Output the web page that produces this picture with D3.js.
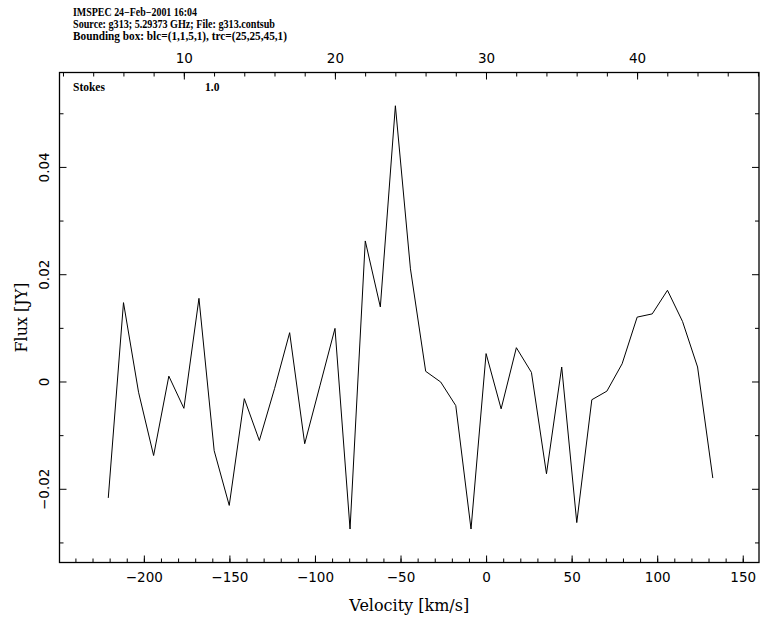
<!DOCTYPE html>
<html><head><meta charset="utf-8">
<script src="https://cdn.jsdelivr.net/npm/d3@7"></script>
<style>
body{margin:0;background:#fff;}
svg{display:block;}
.hdr{font-family:"Liberation Serif","DejaVu Serif",serif;font-weight:bold;font-size:11.5px;fill:#000;}
.tick text{font-family:"DejaVu Sans",sans-serif;font-size:13.5px;fill:#000;}
.title{font-family:"DejaVu Serif","Liberation Serif",serif;font-size:16px;fill:#000;}
</style></head>
<body>
<script>
// Channel numbers (top axis) and velocities (bottom axis)
const channels = [5,6,7,8,9,10,11,12,13,14,15,16,17,18,19,20,21,22,23,24,25,26,27,28,29,30,31,32,33,34,35,36,37,38,39,40,41,42,43,44,45];
const velocities = [-220.8,-211.9,-203.1,-194.3,-185.4,-176.6,-167.8,-158.9,-150.1,-141.3,-132.5,-123.6,-114.8,-106.0,-97.1,-88.3,-79.5,-70.6,-61.8,-53.0,-44.2,-35.3,-26.5,-17.7,-8.8,0.0,8.8,17.7,26.5,35.3,44.2,53.0,61.8,70.6,79.5,88.3,97.1,106.0,114.8,123.6,132.5];
const flux = [-0.0217,0.0147,-0.0020,-0.0138,0.0010,-0.0050,0.0155,-0.0129,-0.0231,-0.0032,-0.0110,-0.0013,0.0091,-0.0116,-0.0008,0.0099,-0.0275,0.0262,0.0139,0.0514,0.0210,0.0019,-0.0001,-0.0045,-0.0275,0.0052,-0.0051,0.0063,0.0017,-0.0172,0.0027,-0.0263,-0.0034,-0.0018,0.0033,0.0120,0.0126,0.0170,0.0112,0.0027,-0.0180];
const velTicks = [-200,-150,-100,-50,0,50,100,150];
const chanTicks = [10,20,30,40];
const fluxTicks = [-0.02,0,0.02,0.04];
const fluxTickLabels = ["\u22120.02","0","0.02","0.04"];
const headerLines = ["IMSPEC 24\u2212Feb\u22122001 16:04","Source: g313; 5.29373 GHz; File: g313.contsub","Bounding box: blc=(1,1,5,1), trc=(25,25,45,1)"];
const headerWidths = [124,202,214];

(function(){
const W=760,H=618;
const L=59.5,R=759,T=72.5,B=562.5;
const svg=d3.select("body").append("svg").attr("width",W).attr("height",H);

const x=d3.scaleLinear().domain([-249.3,159.5]).range([L,R]);
const xc=d3.scaleLinear().domain([1.77,48.07]).range([L,R]);
const y=d3.scaleLinear().domain([-0.03374,0.0576]).range([B,T]);

function fmtV(d){return d<0?"\u2212"+Math.abs(d):String(d);}

// frame
svg.append("rect").attr("x",L).attr("y",T).attr("width",R-L).attr("height",B-T)
  .attr("fill","none").attr("stroke","#000").attr("stroke-width",1.3);

// bottom axis
const minorV=d3.range(-240,160,10);
const gBot=svg.append("g").attr("transform",`translate(0,${B})`);
gBot.call(d3.axisBottom(x).tickValues(minorV).tickSize(-4).tickFormat(""));
gBot.append("g").call(d3.axisBottom(x).tickValues(velTicks).tickSize(-7).tickPadding(10).tickFormat(fmtV));

// top axis (channels)
const minorC=d3.range(2,49,2);
const gTop=svg.append("g").attr("transform",`translate(0,${T})`);
gTop.call(d3.axisTop(xc).tickValues(minorC).tickSize(-4).tickFormat(""));
gTop.append("g").call(d3.axisTop(xc).tickValues(chanTicks).tickSize(-7).tickPadding(10).tickFormat(d=>d));

// left axis
const minorF=[-0.03,-0.01,0.01,0.03,0.05];
const gLeft=svg.append("g").attr("transform",`translate(${L},0)`);
gLeft.call(d3.axisLeft(y).tickValues(minorF).tickSize(-4).tickFormat(""));
const lmaj=gLeft.append("g").call(d3.axisLeft(y).tickValues(fluxTicks).tickSize(-7).tickFormat((d,i)=>fluxTickLabels[i]));
lmaj.selectAll(".tick text").attr("x",null).attr("dy",null)
  .attr("text-anchor","middle")
  .attr("transform","translate(-11,0) rotate(-90)");

// right axis
const gRight=svg.append("g").attr("transform",`translate(${R},0)`);
gRight.call(d3.axisRight(y).tickValues(minorF).tickSize(-4).tickFormat(""));
gRight.append("g").call(d3.axisRight(y).tickValues(fluxTicks).tickSize(-7).tickFormat(""));

svg.selectAll(".domain").remove();
svg.selectAll(".tick line").attr("stroke","#000");

// spectrum line
const pts=velocities.map((v,i)=>[v,flux[i]]);
svg.append("path").datum(pts)
  .attr("fill","none").attr("stroke","#000").attr("stroke-width",1)
  .attr("d",d3.line().x(d=>x(d[0])).y(d=>y(d[1])));

// header
headerLines.forEach((t,i)=>svg.append("text").attr("class","hdr").attr("x",73).attr("y",16+i*12)
  .attr("textLength",headerWidths[i]).attr("lengthAdjust","spacingAndGlyphs").text(t));
svg.append("text").attr("class","hdr").attr("x",73).attr("y",91).text("Stokes");
svg.append("text").attr("class","hdr").attr("x",205).attr("y",91).text("1.0");

// axis titles
svg.append("text").attr("class","title").attr("x",(L+R)/2).attr("y",611).attr("text-anchor","middle").text("Velocity [km/s]");
svg.append("text").attr("class","title").attr("transform",`translate(27,${(T+B)/2}) rotate(-90)`).attr("text-anchor","middle").text("Flux [JY]");
})();
</script>
</body></html>
